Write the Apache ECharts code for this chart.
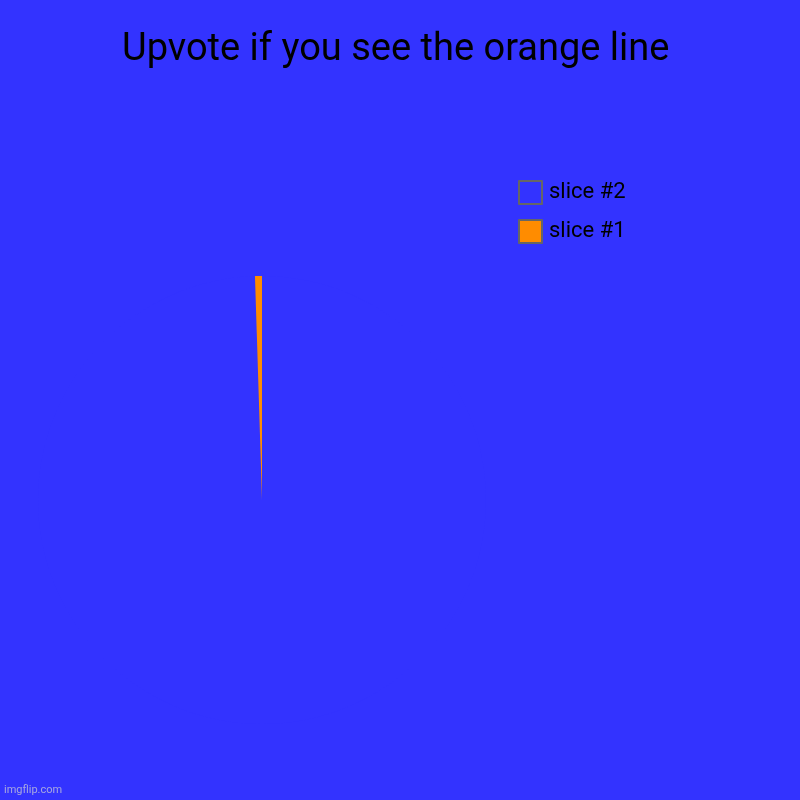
<!DOCTYPE html>
<html>
<head>
<meta charset="utf-8">
<script src="https://cdn.jsdelivr.net/npm/echarts@6/dist/echarts.min.js"></script>
<style>
html,body{margin:0;padding:0;background:#3333ff;}
#chart{width:800px;height:800px;}
</style>
</head>
<body>
<div id="chart"></div>
<script>
const categories = ['slice #2', 'slice #1'];
const values = [99.5, 0.5];
const colors = ['#3333ff', '#ff8c00'];

const chart = echarts.init(document.getElementById('chart'), null, {renderer: 'canvas'});
chart.setOption({
  backgroundColor: '#3333ff',
  animation: false,
  title: {
    text: 'Upvote if you see the orange line',
    left: 117,
    top: 26,
    textStyle: {fontFamily: 'Roboto', fontSize: 38, fontWeight: 'normal', color: '#000'}
  },
  graphic: [{
    type: 'text', left: 4, top: 785,
    style: {text: 'imgflip.com', font: '11px Roboto', fill: '#a8a8e0'}
  }],
  legend: {
    orient: 'vertical',
    left: 513,
    top: 175,
    itemWidth: 23,
    itemHeight: 23,
    itemGap: 14,
    icon: 'rect',
    data: categories,
    itemStyle: {borderColor: '#666666', borderWidth: 2},
    textStyle: {fontFamily: 'Roboto', fontSize: 22, color: '#000', padding: [0, 0, 0, 2]}
  },
  series: [{
    type: 'pie',
    center: [262, 500],
    radius: 224,
    startAngle: 90,
    clockwise: true,
    label: {show: false},
    labelLine: {show: false},
    emphasis: {disabled: true},
    itemStyle: {borderWidth: 0},
    data: categories.map((c, i) => ({name: c, value: values[i], itemStyle: {color: colors[i]}}))
  }]
});
</script>
</body>
</html>
